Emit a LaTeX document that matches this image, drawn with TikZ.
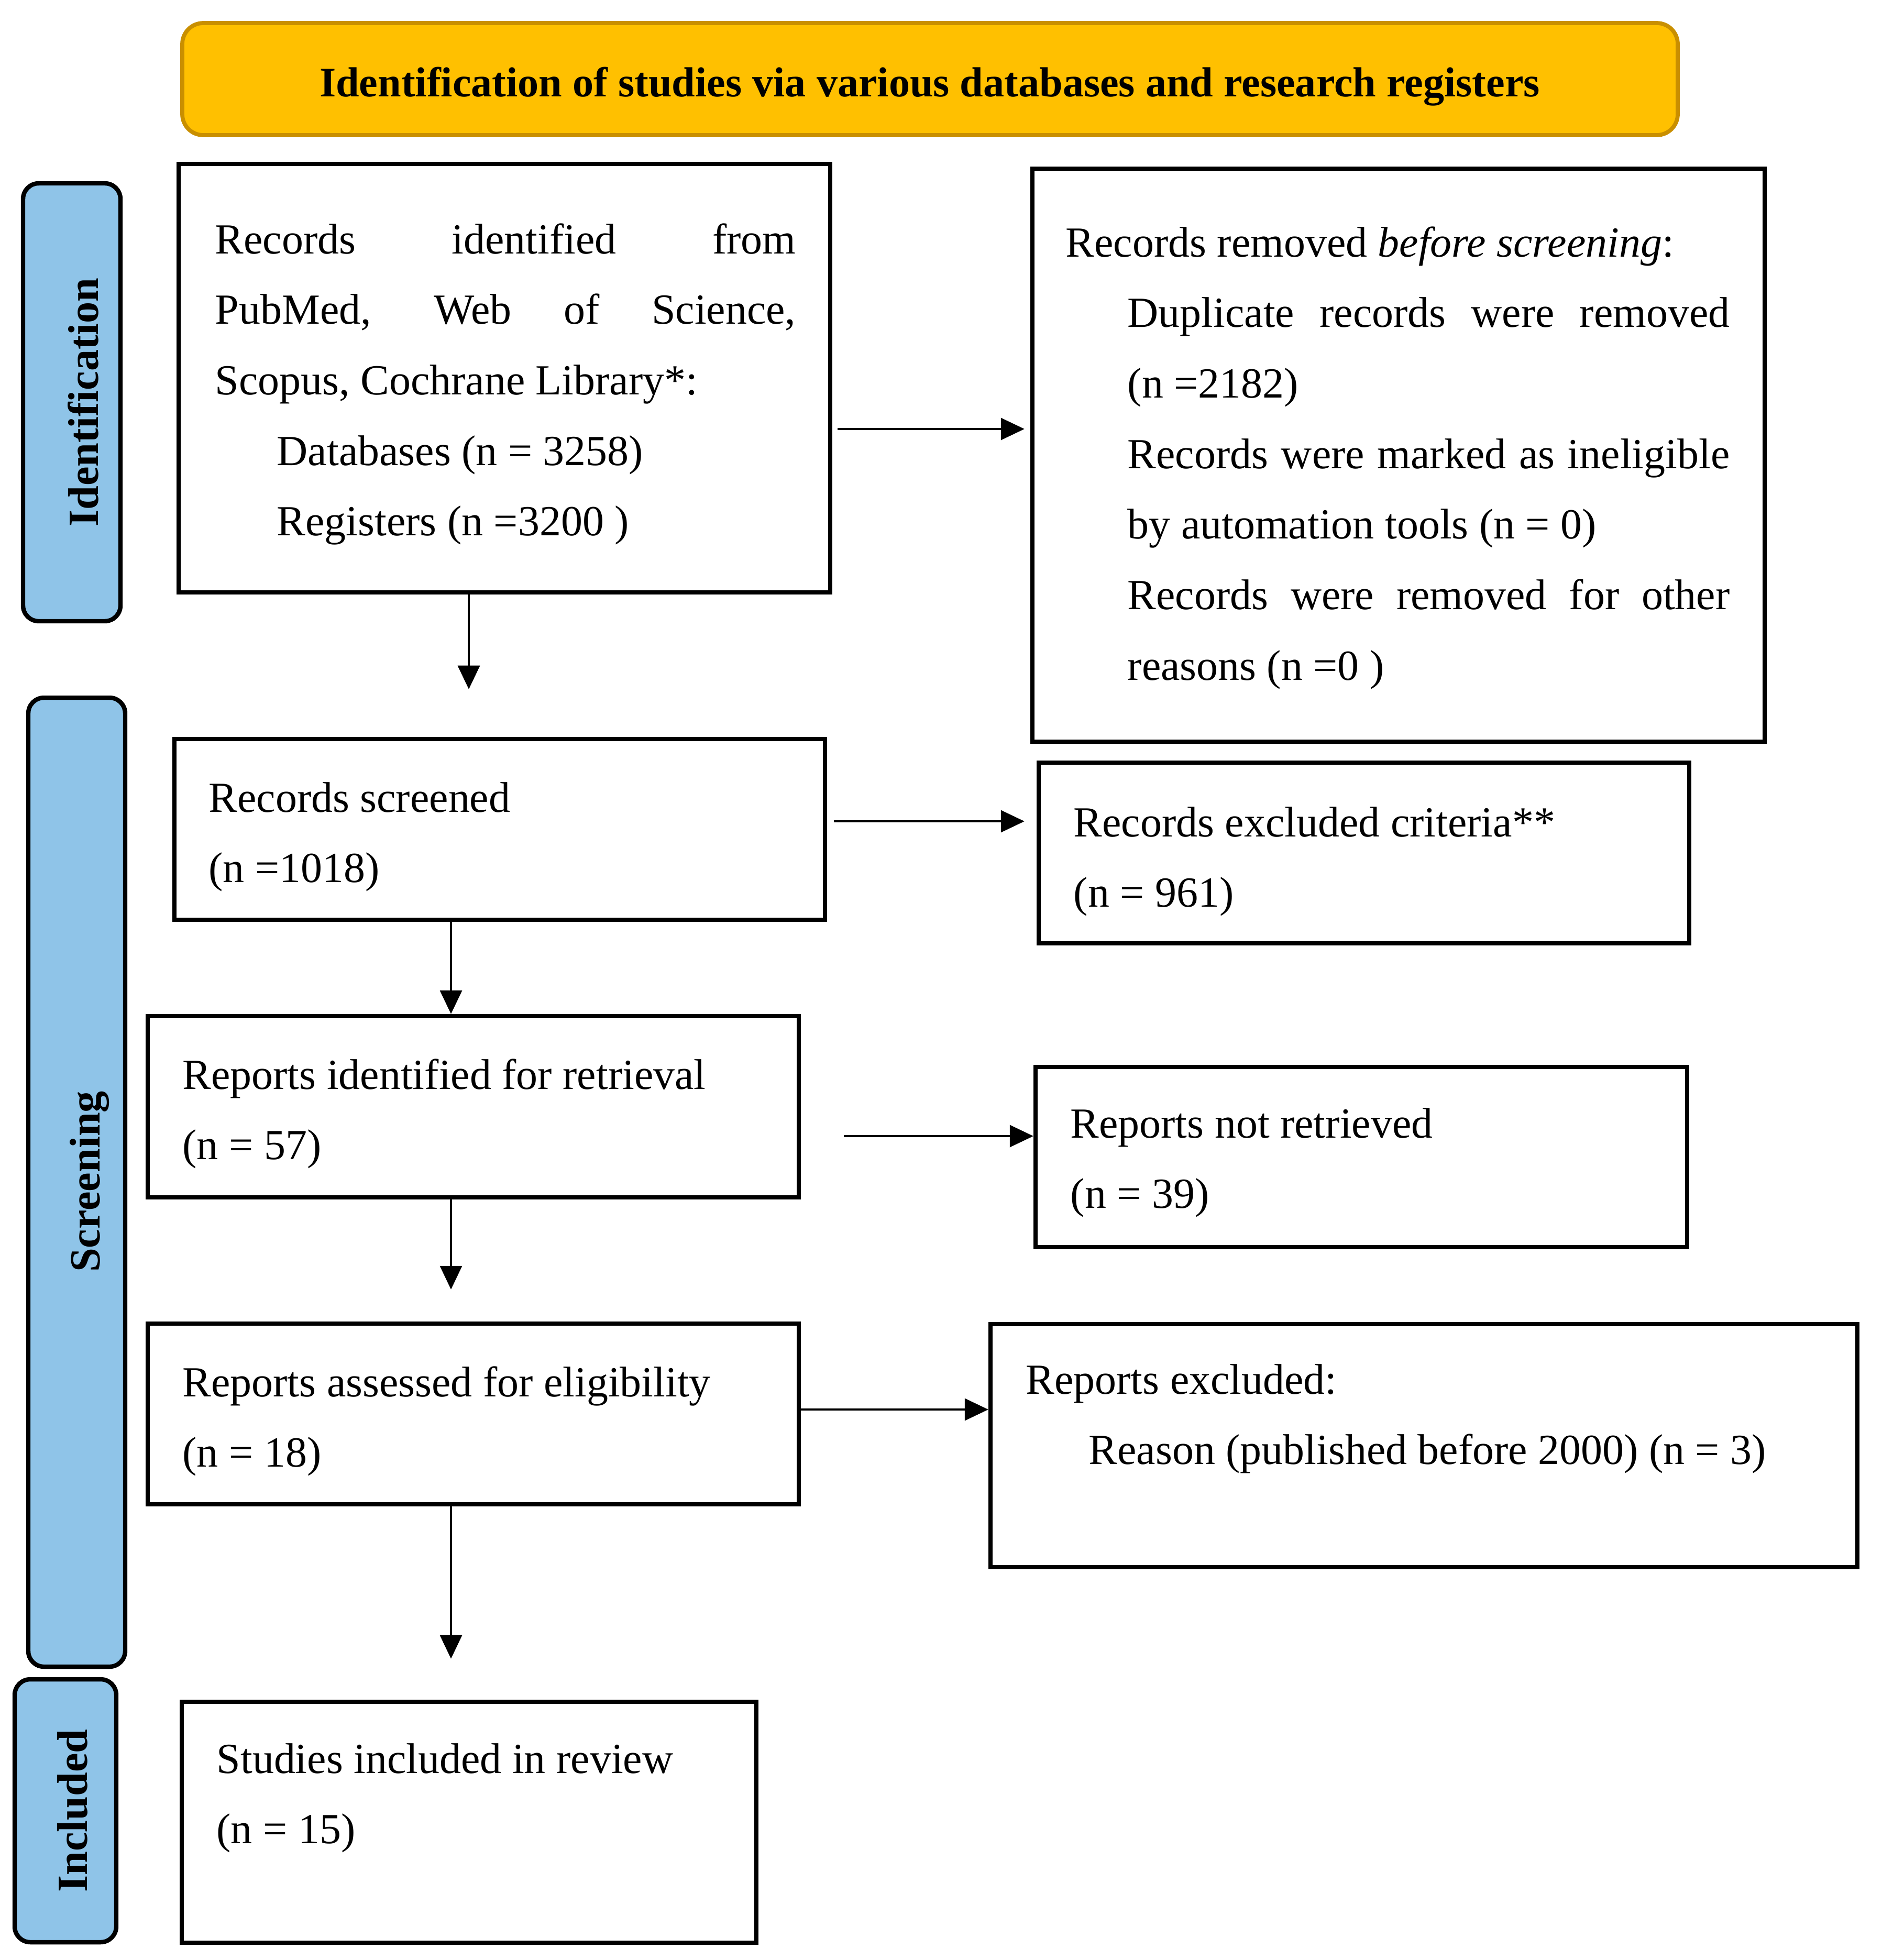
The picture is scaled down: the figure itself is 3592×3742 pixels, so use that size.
\documentclass[tikz,border=0pt]{standalone}
\usepackage{fontspec}
\setmainfont{Liberation Serif}
\usetikzlibrary{arrows.meta,fit}
\definecolor{orfill}{HTML}{FFC000}
\definecolor{ordraw}{HTML}{C98F00}
\definecolor{bluefill}{HTML}{8FC4E8}
\newcommand\natsp{\spaceskip=0pt\xspaceskip=0pt\relax}
\begin{document}
\begin{tikzpicture}[x=0.01cm,y=-0.01cm,
  box/.style={draw=black, line width=2.4pt, rectangle, inner sep=0pt},
  side/.style={draw=black, line width=2.4pt, fill=bluefill, rounded corners=0.3cm, inner sep=0pt},
  head/.style={draw=ordraw, line width=2.2pt, fill=orfill, rounded corners=0.4cm, inner sep=0pt},
  txt/.style={anchor=base west, inner sep=0pt, text width=16cm, font=\fontsize{23.3}{38.3}\selectfont},
  lbl/.style={rotate=90, anchor=base, inner sep=0pt, font=\fontsize{23.4}{27}\selectfont\bfseries},
  arr/.style={line width=1pt, -{Triangle[length=0.45cm,width=0.42cm]}}
]
\useasboundingbox (0,0) rectangle (3592,3742);
\fill[white] (0,0) rectangle (3592,3742);

% header
\node[head, fit={(348,44) (3203,258)}] (hd) {};
\node[anchor=base, inner sep=0pt, font=\fontsize{22.8}{26}\selectfont\bfseries] (hdt) at (1775,184)
  {Identification of studies via various databases and research registers};

% side bars
\node[side, fit={(44,350) (230,1186)}] (s1) {};
\node[lbl] (s1t) at (187,768) {Identification};
\node[side, fit={(54,1332) (239,3182)}] (s2) {};
\node[lbl] (s2t) at (190,2256) {Screening};
\node[side, fit={(28,3206) (222,3708)}] (s3) {};
\node[lbl] (s3t) at (166,3457) {Included};

% boxes
\node[box, fit={(341,313) (1585,1131)}] (b1) {};
\node[txt, text width=11.08cm] (b1t) at (410,484)
  {\natsp\makebox[\linewidth][s]{Records identified from}\\
   \makebox[\linewidth][s]{PubMed, Web of Science,}\\
   Scopus, Cochrane Library*:\\
   \hspace*{1.18cm}Databases (n = 3258)\\
   \hspace*{1.18cm}Registers (n =3200 )};

\node[box, fit={(1971,322) (3369,1416)}] (r1) {};
\node[txt, text width=12.67cm] (r1t) at (2034,490)
  {\natsp Records removed \textit{before screening}:\\
   \hspace*{1.18cm}\makebox[\dimexpr\linewidth-1.18cm][s]{Duplicate records were removed}\\
   \hspace*{1.18cm}(n =2182)\\
   \hspace*{1.18cm}\makebox[\dimexpr\linewidth-1.18cm][s]{Records were marked as ineligible}\\
   \hspace*{1.18cm}by automation tools (n = 0)\\
   \hspace*{1.18cm}\makebox[\dimexpr\linewidth-1.18cm][s]{Records were removed for other}\\
   \hspace*{1.18cm}reasons (n =0 )};

\node[box, fit={(333,1411) (1575,1756)}] (sc) {};
\node[txt] (sct) at (398,1550) {\natsp Records screened\\(n =1018)};

\node[box, fit={(1983,1456) (3225,1801)}] (ex) {};
\node[txt] (ext) at (2049,1597) {\natsp Records excluded criteria**\\(n = 961)};

\node[box, fit={(282,1940) (1525,2286)}] (ri) {};
\node[txt] (rit) at (348,2079) {\natsp Reports identified for retrieval\\(n = 57)};

\node[box, fit={(1977,2037) (3221,2381)}] (nr) {};
\node[txt] (nrt) at (2043,2172) {\natsp Reports not retrieved\\(n = 39)};

\node[box, fit={(282,2527) (1525,2872)}] (as) {};
\node[txt] (ast) at (348,2666) {\natsp Reports assessed for eligibility\\(n = 18)};

\node[box, fit={(1891,2528) (3546,2992)}] (re) {};
\node[txt] (ret) at (1958,2661) {\natsp Reports excluded:\\\hspace*{1.2cm}Reason (published before 2000) (n = 3)};

\node[box, fit={(347,3249) (1444,3709)}] (in) {};
\node[txt] (int) at (413,3385) {\natsp Studies included in review\\(n = 15)};

% connectors
\draw[arr, shorten <=0.1cm, shorten >=0.11cm] (b1.east |- 0,819) -- (r1.west |- 0,819);
\draw[arr, shorten >=0.91cm] (b1.south -| 895,0) -- (sc.north -| 895,0);
\draw[arr, shorten <=0.13cm, shorten >=0.23cm] (sc.east |- 0,1568) -- (ex.west |- 0,1568);
\draw[arr] (sc.south -| 861,0) -- (ri.north -| 861,0);
\draw[arr, shorten <=0.82cm] (ri.east |- 0,2169) -- (nr.west |- 0,2169);
\draw[arr, shorten >=0.61cm] (ri.south -| 861,0) -- (as.north -| 861,0);
\draw[arr] (as.east |- 0,2691) -- (re.west |- 0,2691);
\draw[arr, shorten >=0.78cm] (as.south -| 861,0) -- (in.north -| 861,0);
\end{tikzpicture}
\end{document}
